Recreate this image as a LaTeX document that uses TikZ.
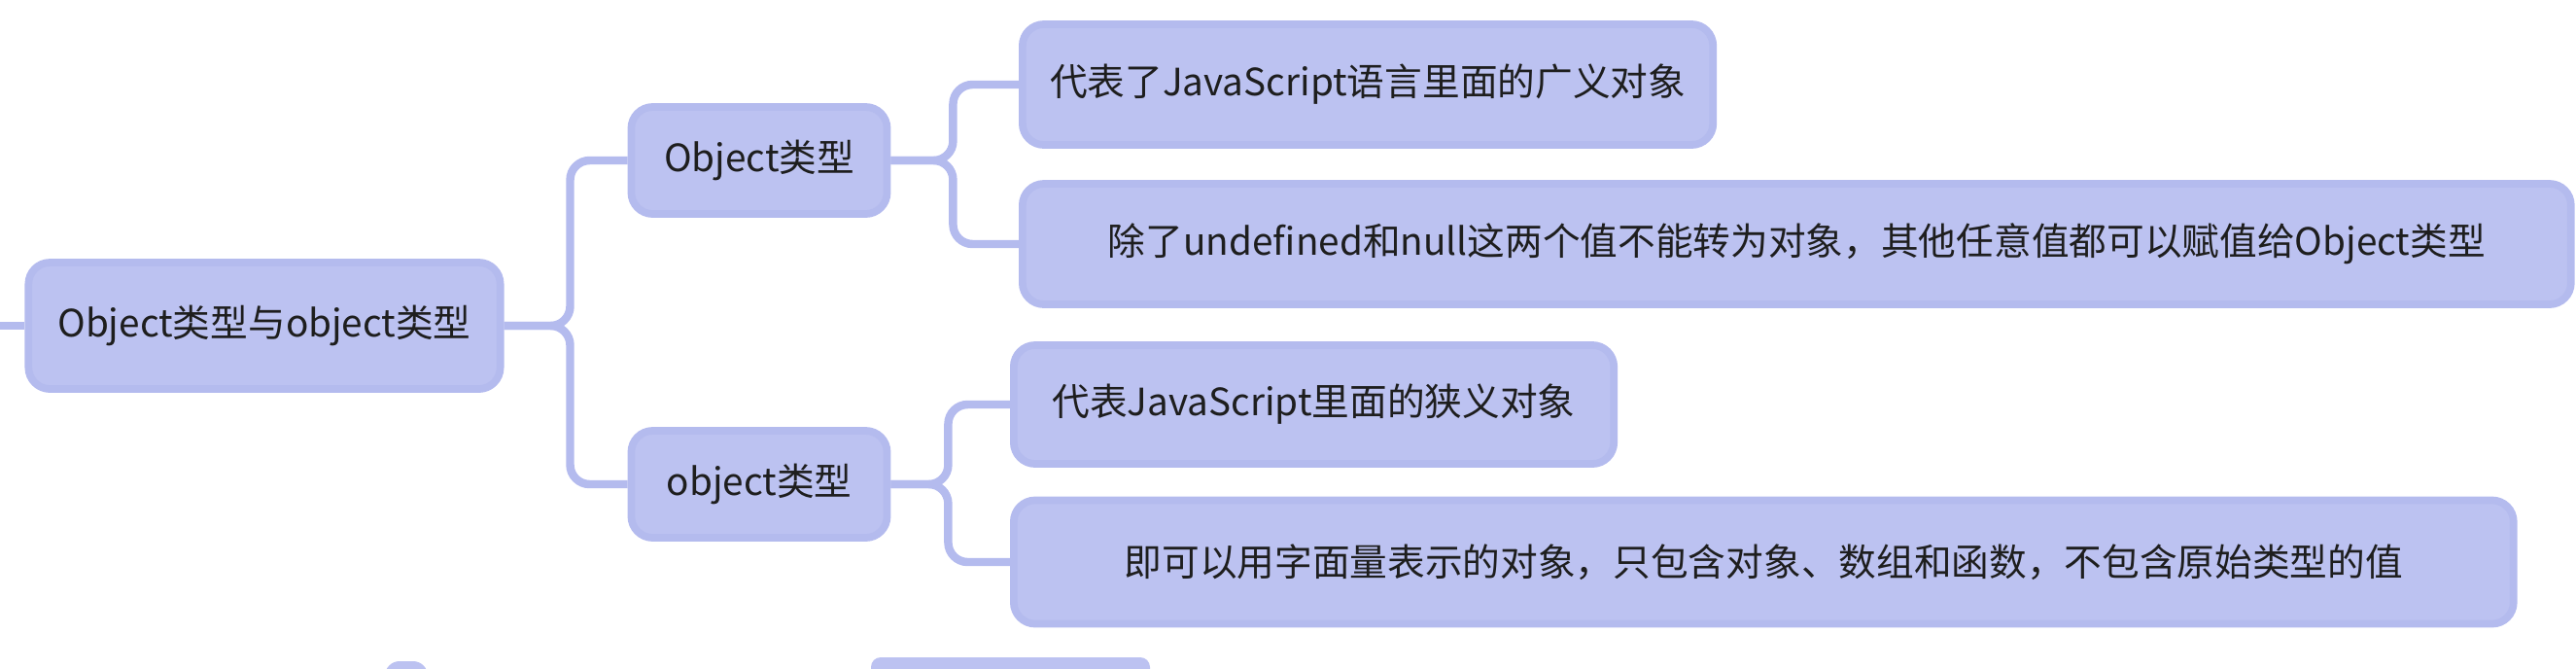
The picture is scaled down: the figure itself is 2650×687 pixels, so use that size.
\documentclass[tikz,border=0pt]{standalone}
\usepackage{fontspec}
\setmainfont{Noto Sans CJK SC}
\definecolor{lavfill}{RGB}{188,194,241}
\definecolor{lavline}{RGB}{180,187,238}
\definecolor{ink}{RGB}{30,30,30}
\tikzset{
  topic/.style={draw=lavline, fill=lavfill, line width=2.2pt, rounded corners=0.22cm,
    text=ink, font=\fontsize{11}{13}\selectfont, inner sep=0pt},
  link/.style={draw=lavline, line width=2.4pt, rounded corners=0.2cm},
}
\begin{document}
\begin{tikzpicture}[x=0.01cm, y=-0.01cm]
  \useasboundingbox (0,0) rectangle (2650,687);

  % Root
  \node[topic, minimum width=4.85cm, minimum height=1.3cm] (root) at (272,335) {Object类型与object类型};
  \coordinate (stub) at (0,335);

  % Two types
  \node[topic, minimum width=2.63cm, minimum height=1.1cm] (bigobj) at (781,165) {Object类型};
  \node[topic, minimum width=2.63cm, minimum height=1.1cm] (smallobj) at (781,498) {object类型};

  % Leaves of Object
  \node[topic, anchor=west, minimum width=7.1cm, minimum height=1.24cm] (bigdesc) at (1048,87) {代表了JavaScript语言里面的广义对象};
  \node[topic, anchor=west, minimum width=15.92cm, minimum height=1.24cm] (bigassign) at (1048,251) {除了undefined和null这两个值不能转为对象，其他任意值都可以赋值给Object类型};

  % Leaves of object
  \node[topic, anchor=west, minimum width=6.17cm, minimum height=1.22cm] (smalldesc) at (1039,416) {代表JavaScript里面的狭义对象};
  \node[topic, anchor=west, minimum width=15.42cm, minimum height=1.27cm] (smallliteral) at (1039,578) {即可以用字面量表示的对象，只包含对象、数组和函数，不包含原始类型的值};

  % Connectors
  \draw[link] (stub) -- (root.west);
  \draw[link] (root.east) -- ++(68,0) |- (bigobj.west);
  \draw[link] (root.east) -- ++(68,0) |- (smallobj.west);
  \draw[link] (bigobj.east) -- ++(64,0) |- (bigdesc.west);
  \draw[link] (bigobj.east) -- ++(64,0) |- (bigassign.west);
  \draw[link] (smallobj.east) -- ++(59,0) |- (smalldesc.west);
  \draw[link] (smallobj.east) -- ++(59,0) |- (smallliteral.west);

  % Tops of the boxes cut off below
  \fill[lavfill, rounded corners=0.15cm] (396,680) rectangle (440,720);
  \fill[lavfill, rounded corners=0.1cm] (896,676) rectangle (1183,720);
\end{tikzpicture}
\end{document}
